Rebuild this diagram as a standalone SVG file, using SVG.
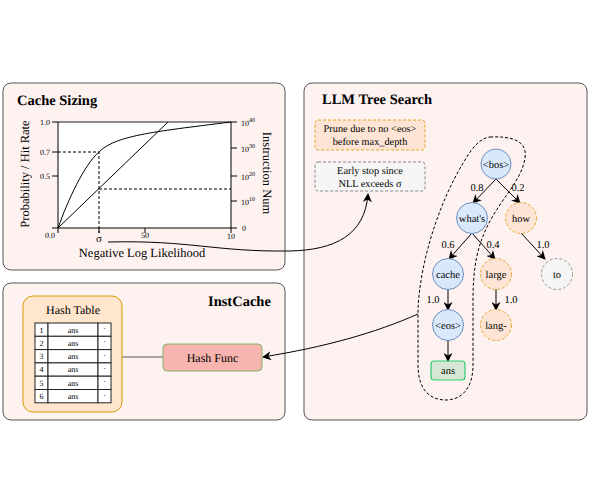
<svg xmlns="http://www.w3.org/2000/svg" width="589" height="496" viewBox="0 0 589 496" text-rendering="geometricPrecision">
<defs>
<marker id="arr" viewBox="0 0 10 10" refX="9" refY="5" markerWidth="9" markerHeight="9" orient="auto" markerUnits="userSpaceOnUse">
<path d="M0,0 L10,5 L0,10 L3,5 z" fill="#000"/>
</marker>
<style>
text{font-family:"Liberation Serif","Times New Roman",serif;fill:#000;text-rendering:geometricPrecision}
.panel{fill:#fef2f0;stroke:#555;stroke-width:1}
.title{font-size:14.5px;font-weight:bold}
.tick{font-size:8px}
.ax{stroke:#000;stroke-width:1;fill:none}
.dash{stroke:#000;stroke-width:1;stroke-dasharray:3,2;fill:none}
.blue{fill:#dae8fc;stroke:#6c8ebf;stroke-width:1}
.orange{fill:#fde4d4;stroke:#e3a82b;stroke-width:1;stroke-dasharray:3,2}
.gray{fill:#f5f5f5;stroke:#999;stroke-width:1;stroke-dasharray:3,2}
.nt{font-size:10.5px;text-anchor:middle}
.el{font-size:10.5px;text-anchor:middle}
.edge{stroke:#000;stroke-width:1;fill:none;marker-end:url(#arr)}
.cell{fill:#fff;stroke:#222;stroke-width:1}
.ct{font-size:8px;text-anchor:middle}
.note{font-size:10.3px;text-anchor:middle}
</style>
</defs>
<rect width="589" height="496" fill="#fff"/>

<g id="cache-sizing">
<rect class="panel" x="3" y="83" width="282" height="187" rx="8"/>
<text class="title" x="17" y="105">Cache Sizing</text>
<rect x="58" y="122" width="173" height="106" fill="#fff"/>
<line x1="58" y1="122" x2="231" y2="122" stroke="#666" stroke-width="1.5"/>
<path class="ax" d="M58,122 L58,228 L231,228 L231,122"/>
<path class="ax" d="M52,122H58M52,152H58M52,176H58M52,228H58M58,228V233M99,228V233M145,228V233M231,228V233M231,122H237M231,148H237M231,176H237M231,201H237M231,228H237"/>
<path class="dash" d="M58,152H99V233M99,189H231"/>
<path class="ax" d="M58,228 C68,200 84,165 99,152 C115,136 150,132 231,122"/>
<path class="ax" d="M58,228 L168,122"/>
<g class="tick">
<text x="50" y="125" text-anchor="end">1.0</text>
<text x="50" y="155" text-anchor="end">0.7</text>
<text x="50" y="179" text-anchor="end">0.5</text>
<text x="50" y="238" text-anchor="middle">0.0</text>
<text x="145" y="238" text-anchor="middle">50</text>
<text x="231" y="239" text-anchor="middle">10</text>
<text x="241" y="126">10<tspan font-size="6" dy="-4">40</tspan></text>
<text x="241" y="152">10<tspan font-size="6" dy="-4">30</tspan></text>
<text x="241" y="180">10<tspan font-size="6" dy="-4">20</tspan></text>
<text x="241" y="205">10<tspan font-size="6" dy="-4">10</tspan></text>
<text x="242" y="231">0</text>
</g>
<text x="99" y="242" font-size="11" text-anchor="middle">σ</text>
<text x="142" y="257" font-size="12.5" text-anchor="middle">Negative Log Likelihood</text>
<text transform="translate(29,174) rotate(-90)" font-size="12.5" text-anchor="middle">Probability / Hit Rate</text>
<text transform="translate(263,173) rotate(90)" font-size="12.5" text-anchor="middle">Instruction Num</text>
</g>

<g id="llm-tree-search">
<rect class="panel" x="304" y="83" width="283" height="337" rx="8"/>
<text class="title" x="322" y="104">LLM Tree Search</text>
</g>

<g id="instcache">
<rect class="panel" x="3" y="283" width="282" height="137" rx="8"/>
<text class="title" x="208" y="306">InstCache</text>
</g>

<g id="prune-note">
<rect x="315" y="120" width="110" height="30" rx="3" fill="#fde4d4" stroke="#e3a82b" stroke-dasharray="3,2"/>
<text class="note" x="370" y="132">Prune due to no &lt;eos&gt;</text>
<text class="note" x="370" y="144.5">before max_depth</text>
</g>
<g id="early-stop-note">
<rect x="315" y="162" width="110" height="29" rx="3" fill="#f5f5f5" stroke="#888" stroke-dasharray="3,2"/>
<text class="note" x="370" y="173.5">Early stop since</text>
<text class="note" x="370" y="186.5">NLL exceeds σ</text>
</g>

<g id="selection-loop">
<path class="dash" d="M490,137 C510,136 528,140 525,158 C522,180 500,200 488,225 C478,245 473,265 473,300 L473,365 C473,390 460,400 446,400 C430,400 418,390 418,365 L418,310 C420,260 440,200 465,160 C472,148 480,138 490,137 Z"/>
</g>

<g id="connectors">
<line class="edge" x1="496" y1="179" x2="473" y2="203"/>
<line class="edge" x1="496" y1="179" x2="520" y2="203"/>
<line class="edge" x1="472" y1="233" x2="449" y2="259"/>
<line class="edge" x1="472" y1="233" x2="495" y2="259"/>
<line class="edge" x1="521" y1="233" x2="545" y2="259"/>
<line class="edge" x1="448" y1="289" x2="448" y2="310"/>
<line class="edge" x1="496" y1="289" x2="496" y2="310"/>
<line class="edge" x1="448" y1="340" x2="448" y2="361"/>
<path class="edge" d="M108,242 C190,240 215,252 290,251 C335,250 365,235 368,194"/>
<path class="edge" d="M418,314 C375,333 325,347 263,357"/>
<path d="M163,357 L111,357" stroke="#555" stroke-width="1" fill="none" marker-end="url(#arr)"/>
</g>

<g id="edge-labels">
<text class="el" x="477" y="191">0.8</text>
<text class="el" x="518" y="191">0.2</text>
<text class="el" x="448" y="248">0.6</text>
<text class="el" x="493" y="248">0.4</text>
<text class="el" x="543" y="248">1.0</text>
<text class="el" x="433" y="303">1.0</text>
<text class="el" x="511" y="303">1.0</text>
</g>

<g id="node-bos"><circle class="blue" cx="496" cy="164" r="15"/><text class="nt" x="496" y="168">&lt;bos&gt;</text></g>
<g id="node-whats"><circle class="blue" cx="472" cy="218" r="15.5"/><text class="nt" x="472" y="222">what's</text></g>
<g id="node-how"><circle class="orange" cx="521" cy="218" r="15.5"/><text class="nt" x="521" y="222">how</text></g>
<g id="node-cache"><circle class="blue" cx="448" cy="274" r="15.5"/><text class="nt" x="448" y="278">cache</text></g>
<g id="node-large"><circle class="orange" cx="496" cy="274" r="15.5"/><text class="nt" x="496" y="278">large</text></g>
<g id="node-to"><circle class="gray" cx="557" cy="274" r="15.5"/><text class="nt" x="557" y="278">to</text></g>
<g id="node-eos"><circle class="blue" cx="448" cy="325" r="15.5"/><text class="nt" x="448" y="329">&lt;eos&gt;</text></g>
<g id="node-lang"><circle class="orange" cx="496" cy="325" r="15.5"/><text class="nt" x="496" y="329">lang-</text></g>
<g id="node-ans"><rect x="431" y="361" width="34" height="19" rx="3" fill="#d5e8d4" stroke="#2ecc71" stroke-width="1.2"/><text class="nt" x="448" y="374">ans</text></g>

<g id="hash-func">
<rect x="163" y="344" width="99" height="27" rx="4" fill="#f8b4ae" stroke="#82b366" stroke-width="1"/>
<text x="212.5" y="361.5" font-size="12" text-anchor="middle">Hash Func</text>
</g>

<g id="hash-table">
<rect x="23" y="296" width="99" height="116" rx="10" fill="#ffe6cc" stroke="#d79b00" stroke-width="1"/>
<text x="73" y="314" font-size="12" text-anchor="middle">Hash Table</text>
<g>
<rect class="cell" x="35" y="323" width="13" height="13.3"/><rect class="cell" x="48" y="323" width="50" height="13.3"/><rect class="cell" x="98" y="323" width="13" height="13.3"/>
<rect class="cell" x="35" y="336.3" width="13" height="13.3"/><rect class="cell" x="48" y="336.3" width="50" height="13.3"/><rect class="cell" x="98" y="336.3" width="13" height="13.3"/>
<rect class="cell" x="35" y="349.6" width="13" height="13.3"/><rect class="cell" x="48" y="349.6" width="50" height="13.3"/><rect class="cell" x="98" y="349.6" width="13" height="13.3"/>
<rect class="cell" x="35" y="362.9" width="13" height="13.3"/><rect class="cell" x="48" y="362.9" width="50" height="13.3"/><rect class="cell" x="98" y="362.9" width="13" height="13.3"/>
<rect class="cell" x="35" y="376.2" width="13" height="13.3"/><rect class="cell" x="48" y="376.2" width="50" height="13.3"/><rect class="cell" x="98" y="376.2" width="13" height="13.3"/>
<rect class="cell" x="35" y="389.5" width="13" height="13.3"/><rect class="cell" x="48" y="389.5" width="50" height="13.3"/><rect class="cell" x="98" y="389.5" width="13" height="13.3"/>
</g>
<g class="ct">
<text x="41.5" y="332.5">1</text><text x="73" y="332.5">ans</text><text x="104.5" y="331">·</text>
<text x="41.5" y="345.8">2</text><text x="73" y="345.8">ans</text><text x="104.5" y="344.3">·</text>
<text x="41.5" y="359.1">3</text><text x="73" y="359.1">ans</text><text x="104.5" y="357.6">·</text>
<text x="41.5" y="372.4">4</text><text x="73" y="372.4">ans</text><text x="104.5" y="370.9">·</text>
<text x="41.5" y="385.7">5</text><text x="73" y="385.7">ans</text><text x="104.5" y="384.2">·</text>
<text x="41.5" y="399">6</text><text x="73" y="399">ans</text><text x="104.5" y="397.5">·</text>
</g>
</g>
</svg>
